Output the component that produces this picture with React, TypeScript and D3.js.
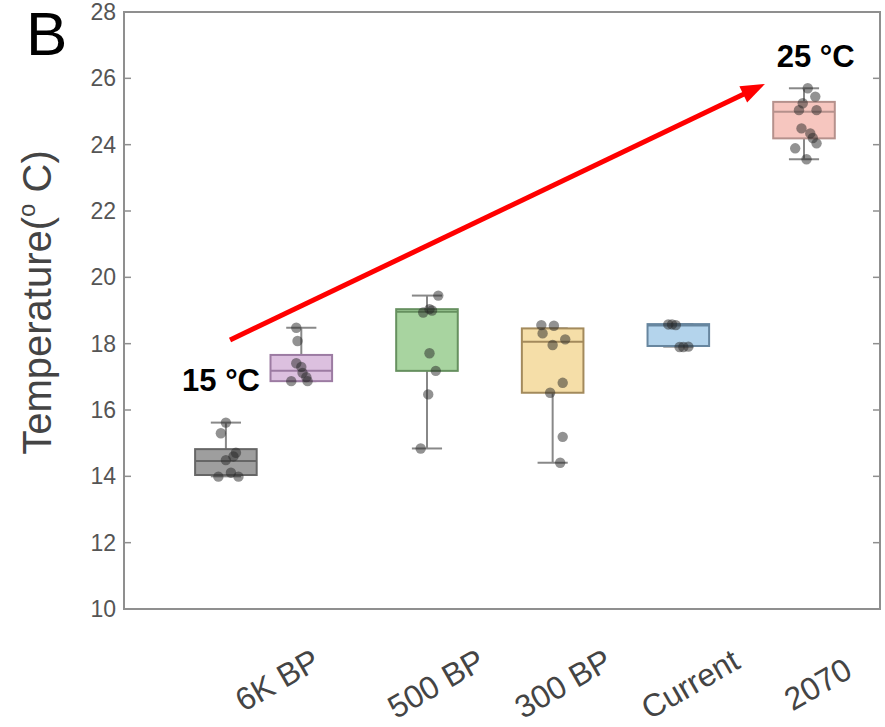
import * as d3 from "d3";

// group positions on the x axis (MATLAB-style numeric x), box stats and colours
const groupPos = [0.4, 1, 2, 3, 4, 5];
const whiskerLo = [14.0, 16.87, 14.84, 14.41, 17.91, 23.56];
const q1 = [14.04, 16.87, 17.18, 16.52, 17.93, 24.19];
const median = [14.46, 17.18, 18.96, 18.06, 18.55, 24.99];
const q3 = [14.82, 17.66, 19.04, 18.46, 18.59, 25.29];
const whiskerHi = [15.62, 18.48, 19.45, 18.46, 18.59, 25.7];
const boxFill = ["#9e9e9e", "#dcc0df", "#a8d4a0", "#f5dea8", "#b4d4ec", "#f6c6bf"];
const boxEdge = ["#666666", "#9c7ba2", "#66905f", "#a38a5c", "#67869f", "#b5918c"];

// jittered observations: [offset from group position, value]
const points: [number, number][][] = [
  [[-0.04, 15.3], [0.08, 14.71], [0.0, 14.49], [-0.06, 13.99], [0.04, 14.11], [0.1, 13.99], [0.0, 15.62], [0.06, 14.6]],
  [[-0.04, 18.48], [-0.03, 18.08], [-0.04, 17.41], [0.01, 17.12], [-0.08, 16.87], [0.05, 16.87], [0.04, 16.99], [0.0, 17.3]],
  [[0.09, 19.45], [0.02, 19.04], [-0.03, 18.94], [0.04, 19.0], [0.02, 17.71], [0.07, 17.18], [0.01, 16.47], [-0.05, 14.84]],
  [[-0.09, 18.56], [0.01, 18.54], [-0.08, 18.31], [0.1, 18.13], [0.0, 17.96], [0.08, 16.82], [-0.02, 16.52], [0.08, 15.19], [0.06, 14.41]],
  [[-0.08, 18.58], [-0.05, 18.58], [-0.02, 18.56], [0.01, 17.9], [0.04, 17.9], [0.08, 17.91]],
  [[0.03, 25.7], [0.09, 25.45], [-0.01, 25.25], [-0.04, 25.04], [0.1, 25.04], [-0.02, 24.49], [0.05, 24.34], [0.1, 24.04], [-0.07, 23.89], [0.02, 23.56], [0.07, 24.2]],
];

const xLabels = ["6K BP", "500 BP", "300 BP", "Current", "2070"];
const xLabelPos = [1.165, 2.477, 3.488, 4.506, 5.4];
const yTicks = [10, 12, 14, 16, 18, 20, 22, 24, 26, 28];

// red trend arrow and its annotations, in data units
const arrowFrom: [number, number] = [0.433, 18.11];
const arrowTo: [number, number] = [4.689, 25.83];
const notes = [
  { text: "15 °C", x: 0.051, y: 16.57 },
  { text: "25 °C", x: 4.783, y: 26.34 },
];

const W = 885;
const H = 727;
const left = 124;
const right = 880;
const top = 12;
const bottom = 609;

export default function App() {
  const x = d3.scaleLinear().domain([1, 5]).range([301.3, 804]);
  const y = d3.scaleLinear().domain([10, 28]).range([bottom, top]);
  const unit = x(1) - x(0);
  const boxW = 0.49 * unit;
  const capW = 0.24 * unit;
  const font = "'Liberation Sans', Arial, sans-serif";

  const [ax, ay] = [x(arrowFrom[0]), y(arrowFrom[1])];
  const [bx, by] = [x(arrowTo[0]), y(arrowTo[1])];
  const ang = Math.atan2(by - ay, bx - ax);
  const headLen = 24;
  const headHalf = 9;
  const baseX = bx - headLen * Math.cos(ang);
  const baseY = by - headLen * Math.sin(ang);
  const head = [
    [bx, by],
    [baseX + headHalf * Math.sin(ang), baseY - headHalf * Math.cos(ang)],
    [baseX - headHalf * Math.sin(ang), baseY + headHalf * Math.cos(ang)],
  ];

  return (
    <svg
      width={W}
      height={H}
      style={{ position: "absolute", left: 0, top: 0, background: "#fff" }}
      fontFamily={font}
    >
      {/* panel letter */}
      <text x={26} y={55} fontSize={62} fill="#000">B</text>

      {/* y axis title */}
      <text
        transform={`translate(51, ${(top + bottom) / 2 - 8}) rotate(-90)`}
        textAnchor="middle"
        fontSize={40}
        fill="#444"
      >
        Temperature(
        <tspan fontSize={24} dy={-16}>o</tspan>
        <tspan dy={16}> C)</tspan>
      </text>

      {/* frame */}
      <rect
        x={left}
        y={top}
        width={right - left}
        height={bottom - top}
        fill="none"
        stroke="#8f8f8f"
        strokeWidth={2}
      />

      {yTicks.map((t) => (
        <g key={t}>
          <line x1={left} x2={left + 7} y1={y(t)} y2={y(t)} stroke="#8f8f8f" strokeWidth={1.5} />
          <line x1={right - 7} x2={right} y1={y(t)} y2={y(t)} stroke="#8f8f8f" strokeWidth={1.5} />
          <text
            x={left - 8}
            y={y(t)}
            textAnchor="end"
            dominantBaseline="central"
            fontSize={23}
            fill="#555"
          >
            {t}
          </text>
        </g>
      ))}

      {xLabels.map((lab, i) => (
        <text
          key={lab}
          transform={`translate(${x(xLabelPos[i])}, ${i === xLabels.length - 1 ? 676 : 667}) rotate(-30)`}
          textAnchor="end"
          fontSize={32}
          fill="#444"
        >
          {lab}
        </text>
      ))}

      {/* boxes */}
      {groupPos.map((p, i) => {
        const cx = x(p);
        return (
          <g key={i}>
            <line x1={cx} x2={cx} y1={y(whiskerHi[i])} y2={y(q3[i])} stroke="#888" strokeWidth={2} />
            <line x1={cx} x2={cx} y1={y(q1[i])} y2={y(whiskerLo[i])} stroke="#888" strokeWidth={2} />
            <line x1={cx - capW / 2} x2={cx + capW / 2} y1={y(whiskerHi[i])} y2={y(whiskerHi[i])} stroke="#888" strokeWidth={2} />
            <line x1={cx - capW / 2} x2={cx + capW / 2} y1={y(whiskerLo[i])} y2={y(whiskerLo[i])} stroke="#888" strokeWidth={2} />
            <rect
              x={cx - boxW / 2}
              y={y(q3[i])}
              width={boxW}
              height={y(q1[i]) - y(q3[i])}
              fill={boxFill[i]}
              stroke={boxEdge[i]}
              strokeWidth={2}
            />
            <line
              x1={cx - boxW / 2}
              x2={cx + boxW / 2}
              y1={y(median[i])}
              y2={y(median[i])}
              stroke={boxEdge[i]}
              strokeWidth={2}
            />
            {points[i].map(([dx, v], j) => (
              <circle key={j} cx={x(p + dx)} cy={y(v)} r={5.2} fill="#262626" fillOpacity={0.5} />
            ))}
          </g>
        );
      })}

      {/* trend arrow */}
      <line x1={ax} y1={ay} x2={baseX + 2 * Math.cos(ang)} y2={baseY + 2 * Math.sin(ang)} stroke="#ff0000" strokeWidth={5} />
      <polygon points={head.map((d) => d.join(",")).join(" ")} fill="#ff0000" />

      {notes.map((n) => (
        <text key={n.text} x={x(n.x)} y={y(n.y)} fontSize={31} fontWeight="bold" fill="#000">
          {n.text}
        </text>
      ))}
    </svg>
  );
}
